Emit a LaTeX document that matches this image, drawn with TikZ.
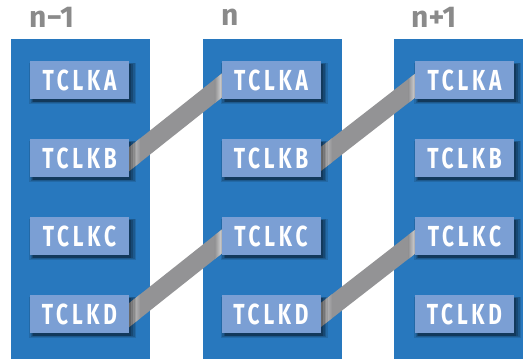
\documentclass[tikz,border=0pt]{standalone}
\usepackage{fontspec}
\setmainfont{Fira Sans}
\newfontfamily\boxfont{Fira Sans}[FakeStretch=0.72,LetterSpace=13]
\newfontfamily\titlefont{Fira Sans}
\usetikzlibrary{calc,shadows}
\definecolor{colblue}{HTML}{2878BE}
\definecolor{boxblue}{HTML}{7B9FD4}
\definecolor{bandgray}{HTML}{939395}
\definecolor{titlegray}{HTML}{8A8A8A}
\tikzset{
  colrect/.style={fill=colblue, minimum width=139pt, minimum height=340pt,
    inner sep=0pt, outer sep=0pt, anchor=north west},
  regslot/.style={minimum width=99pt, minimum height=38pt,
    inner sep=0pt, outer sep=0pt},
  regbox/.style={regslot, fill=boxblue, text=white,
    font=\boxfont\bfseries\fontsize{29}{31}\selectfont,
    general shadow={fill=black, opacity=.12, shadow xshift=3pt, shadow yshift=-3pt, shadow scale=1.08},
    general shadow={fill=black, opacity=.15, shadow xshift=3pt, shadow yshift=-3pt, shadow scale=1.05},
    general shadow={fill=black, opacity=.18, shadow xshift=3pt, shadow yshift=-3pt, shadow scale=1.02},
    general shadow={fill=black, opacity=.20, shadow xshift=3pt, shadow yshift=-3pt, shadow scale=0.99}},
  coltitle/.style={anchor=west, inner sep=0pt, text=titlegray,
    font=\titlefont\bfseries\fontsize{30}{32}\selectfont},
}
% grey ribbon from the east side of one register to the west side of another
\newcommand\bandlink[2]{%
  \coordinate (tl) at ($(#1.east)+(-1,-10)$);
  \coordinate (bl) at ($(#1.east)+(-1,14)$);
  \coordinate (tr) at ($(#2.west)+(1,-7)$);
  \coordinate (br) at ($(#2.west)+(1,17)$);
  \fill[bandgray] (tl) -- (tr) -- (br) -- (bl) -- cycle;
  \shade[left color=white!70!bandgray, middle color=white, right color=bandgray]
    (tl) -- ($(tl)!0.13!(tr)$) -- ($(bl)!0.13!(br)$) -- (bl) -- cycle;
  \shade[left color=bandgray, middle color=white, right color=white!70!bandgray]
    ($(tl)!0.92!(tr)$) -- (tr) -- (br) -- ($(bl)!0.92!(br)$) -- cycle;
}
\begin{document}
\begin{tikzpicture}[x=1pt,y=-1pt]
\useasboundingbox (0,0) rectangle (523,359);
\clip (0,0) rectangle (523,359);

% columns
\node[colrect] (c1) at (11,39) {};
\node[colrect] (c2) at (203,39) {};
\node[colrect] (c3) at (394,39) {};

% column titles
\node[coltitle] (t1) at (29,17) {n−1};
\node[coltitle] (t2) at (221,17) {n};
\node[coltitle] (t3) at (411,17) {n+1};

% register slots
\foreach \c/\x in {1/79.5, 2/271, 3/464.5} {
  \foreach \r/\y in {A/80, B/158, C/236, D/314} {
    \path (\x,\y) node[regslot] (b\c\r) {};
  }
}

% ribbons between neighbouring columns
\bandlink{b1B}{b2A}
\bandlink{b1D}{b2C}
\bandlink{b2B}{b3A}
\bandlink{b2D}{b3C}

% register faces
\foreach \c in {1,2,3} {
  \foreach \r in {A,B,C,D} {
    \node[regbox] (f\c\r) at (b\c\r) {TCLK\r};
  }
}
\end{tikzpicture}
\end{document}
